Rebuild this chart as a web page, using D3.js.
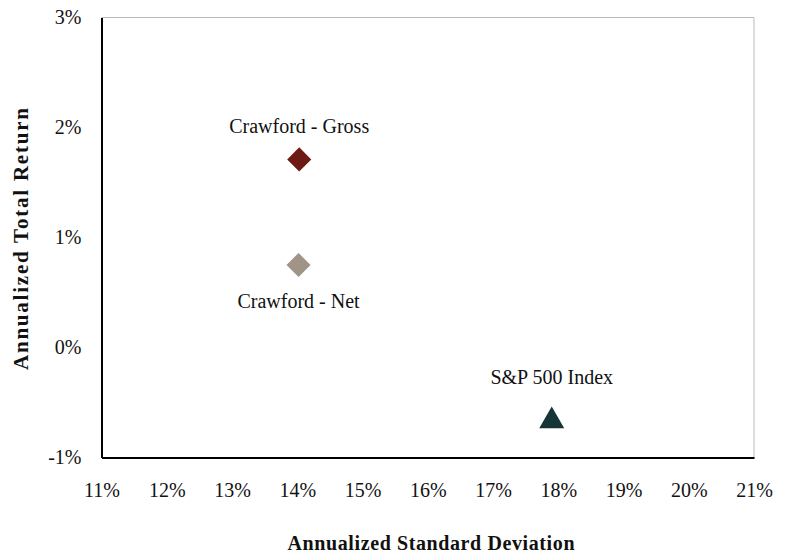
<!DOCTYPE html>
<html><head><meta charset="utf-8">
<script src="https://cdn.jsdelivr.net/npm/d3@7"></script>
<style>body{margin:0;background:#fff}svg{display:block}text{font-family:"Liberation Serif","Times New Roman",serif;fill:#111}</style>
</head><body>
<svg id="c" width="786" height="557"></svg>
<script>
const names = ["Crawford - Gross", "Crawford - Net", "S&P 500 Index"];
const stdDev = [14.03, 14.02, 17.9];
const returns = [1.71, 0.75, -0.65];
const shapes = ["diamond", "diamond", "triangle"];
const colors = ["#6b1a14", "#a09488", "#173436"];
const labelPos = ["above", "below", "above"];
const xTicks = [11,12,13,14,15,16,17,18,19,20,21];
const yTicks = [-1,0,1,2,3];

const svg = d3.select("#c");
const L=101.5, R=754, T=17.5, B=457.5;
const x = d3.scaleLinear().domain([11,21]).range([L,R]);
const y = d3.scaleLinear().domain([-1,3]).range([B,T]);

// frame
svg.append("line").attr("x1",L).attr("x2",R).attr("y1",T).attr("y2",T).attr("stroke","#bbb");
svg.append("line").attr("x1",R).attr("x2",R).attr("y1",T).attr("y2",B).attr("stroke","#bbb");

const xa = svg.append("g").attr("transform",`translate(0,${B})`)
  .call(d3.axisBottom(x).tickValues(xTicks).tickSize(0).tickPadding(25).tickFormat(d=>d+"%"));
const ya = svg.append("g").attr("transform",`translate(${L},0)`)
  .call(d3.axisLeft(y).tickValues(yTicks).tickSize(0).tickPadding(20).tickFormat(d=>d+"%"));
[xa,ya].forEach(g=>{
  g.select(".domain").attr("stroke","#000").attr("stroke-width",2);
  g.selectAll("text").attr("font-size",20).attr("font-family",'"Liberation Serif",serif').attr("fill","#111");
});

const sym = {diamond: d3.symbol().type(d3.symbolSquare).size(290)(),
             triangle: d3.symbol().type(d3.symbolTriangle).size(270)()};
names.forEach((n,i)=>{
  const cx=x(stdDev[i]), cy=y(returns[i]);
  svg.append("path").attr("d",sym[shapes[i]]).attr("fill",colors[i])
    .attr("transform",`translate(${cx},${cy})`+(shapes[i]==="diamond"?" rotate(45)":" translate(0,2)"));
  svg.append("text").attr("x",cx).attr("y", labelPos[i]==="above"? cy-(shapes[i]==="diamond"?26:35) : cy+43)
    .attr("text-anchor","middle").attr("font-size",20).text(n);
});

svg.append("text").attr("x",431).attr("y",550).attr("text-anchor","middle")
  .attr("font-size",20).attr("font-weight","bold").attr("textLength",287).attr("lengthAdjust","spacing")
  .text("Annualized Standard Deviation");
svg.append("text").attr("transform","translate(28,239) rotate(-90)").attr("text-anchor","middle")
  .attr("font-size",21).attr("font-weight","bold").attr("textLength",262).attr("lengthAdjust","spacing")
  .text("Annualized Total Return");
</script>
</body></html>
